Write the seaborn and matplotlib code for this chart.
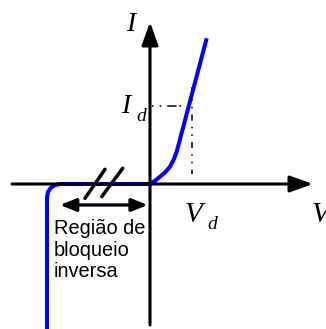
import matplotlib
matplotlib.use("Agg")
import matplotlib.pyplot as plt
import seaborn as sns
import pandas as pd

# Diode I-V curve (units: arbitrary, origin at axes crossing)
curve_v = [-103, -103, -102, -99.2, -95, -90, 0, 5, 10, 15, 20, 23.5, 26.7, 56.7]
curve_i = [-145, -13, -8, -3.8, -1, 0, 0, 3.2, 7.3, 11.5, 17.3, 24, 32.3, 145.7]

# operating point
v_d = 41.7
i_d = 78

# region label
region_lines = ["Região de", "bloqueio", "inversa"]

sns.set_theme(style="white")
plt.rcParams["font.family"] = ["Liberation Sans", "DejaVu Sans"]

df = pd.DataFrame({"V": curve_v, "I": curve_i})

fig = plt.figure(figsize=(3.26, 3.29), dpi=100)
ax = fig.add_axes([0, 0, 1, 1])
ax.set_xlim(-150, 176)
ax.set_ylim(-145, 184)
ax.axis("off")

# axes with arrows
arrow = dict(arrowstyle="-|>,head_length=1.4,head_width=0.5", color="black",
             lw=2.2, shrinkA=0, shrinkB=0, mutation_scale=10)
ax.annotate("", xy=(163, 0), xytext=(-138, 0), arrowprops=arrow)
ax.annotate("", xy=(0, 162), xytext=(0, -141), arrowprops=arrow)

# dashed guides for Vd / Id
ax.plot([2, v_d], [i_d, i_d], color="black", lw=1.1, dashes=(1, 4, 1, 4, 6, 2))
ax.plot([v_d, v_d], [i_d + 19, 10], color="black", lw=1.1, dashes=(4, 4, 1, 4, 1, 4))

# the curve (no aggregation: the path has repeated V values)
sns.lineplot(data=df, x="V", y="I", sort=False, estimator=None, color="#0000ff",
             lw=2.9, ax=ax, solid_joinstyle="round", solid_capstyle="butt")

# axis break marks
ax.plot([-65, -45], [-14.3, 14.7], color="black", lw=2.5)
ax.plot([-48.3, -27.3], [-12.7, 15.7], color="black", lw=2.5)

# double arrow for the blocking region
ax.annotate("", xy=(-90, -21), xytext=(-2.3, -21),
            arrowprops=dict(arrowstyle="<|-|>,head_length=0.95,head_width=0.38",
                            color="black", lw=2.4, shrinkA=0, shrinkB=0,
                            mutation_scale=10))

for k, line in enumerate(region_lines):
    ax.text(-96, -50 - 21.5 * k, line, fontsize=14.4, va="baseline", ha="left",
            color="black")

# labels
serif = dict(family=["Liberation Serif", "DejaVu Serif"], style="italic", color="black")
ax.text(-24, 153.3, "I", fontsize=20, va="baseline", **serif)
ax.text(-28.5, 70.7, "I", fontsize=20, va="baseline", **serif)
ax.text(-14, 63.3, "d", fontsize=14, va="baseline", **serif)
ax.text(34.5, -38, "V", fontsize=21, va="baseline", **serif)
ax.text(57.5, -45, "d", fontsize=14, va="baseline", **serif)
ax.text(161, -38, "V", fontsize=21, va="baseline", **serif)

fig.savefig("out.png", dpi=100)
